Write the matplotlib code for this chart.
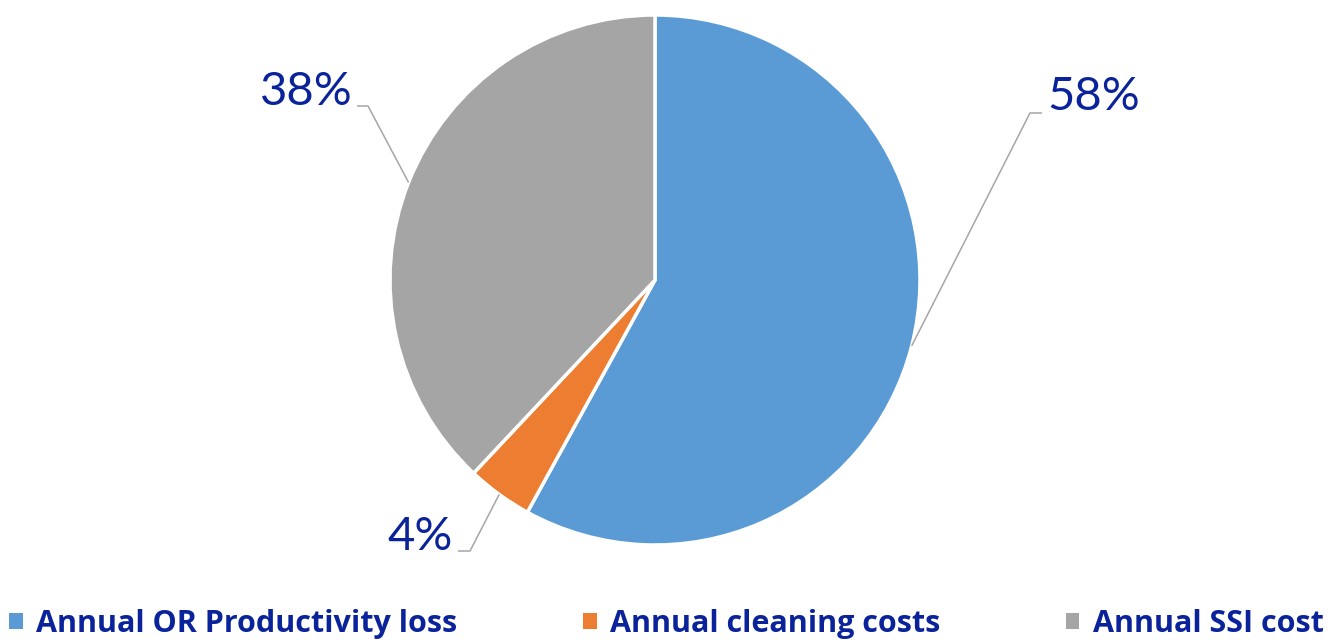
import numpy as np
import matplotlib
matplotlib.use("Agg")
import matplotlib.pyplot as plt
from matplotlib.patches import Patch

# data
categories = ["Annual OR Productivity loss", "Annual cleaning costs", "Annual SSI cost"]
shares = [58, 4, 38]
colors = ["#5B9BD5", "#ED7D31", "#A5A5A5"]
labels = ["58%", "4%", "38%"]

W, H = 1336, 640
TEXT_BLUE = "#0A239B"
plt.rcParams["font.family"] = ["Lato", "DejaVu Sans"]

fig = plt.figure(figsize=(W / 100, H / 100), dpi=100)
ax = fig.add_axes([0, 0, 1, 1])

cx, cy, r = 655, H - 280, 265
wedges, _ = ax.pie(shares, colors=colors, startangle=90, counterclock=False,
                   center=(cx, cy), radius=r, frame=True,
                   wedgeprops=dict(edgecolor="white", linewidth=2.5))
ax.set_xlim(0, W)
ax.set_ylim(0, H)
ax.set_aspect("equal")
ax.axis("off")

# label layout: elbow point, line end, text anchor (pixel coords from top)
layout = [
    dict(elbow=(1030, 113), end=(1042, 113), text=(1047, 97), ha="left"),
    dict(elbow=(470, 551), end=(458, 551), text=(453, 537), ha="right"),
    dict(elbow=(368, 106), end=(357, 106), text=(353, 92), ha="right"),
]

for w, lab, lay in zip(wedges, labels, layout):
    mid = np.deg2rad((w.theta1 + w.theta2) / 2)
    ax_x = cx + r * np.cos(mid)
    ax_y = cy + r * np.sin(mid)
    ex, ey = lay["elbow"]
    nx, ny = lay["end"]
    ax.plot([ax_x, ex, nx], [ax_y, H - ey, H - ny], color="#A6A6A6", lw=1.1,
            solid_capstyle="butt", zorder=1)
    tx, ty = lay["text"]
    ax.text(tx, H - ty, lab, ha=lay["ha"], va="center", fontsize=34,
            color=TEXT_BLUE)

handles = [Patch(facecolor=c, edgecolor="none") for c in colors]
fig.legend(handles, categories, loc="lower left", ncol=3, mode="expand",
           bbox_to_anchor=(9 / W, 1 / H, (1324 - 9) / W, 36 / H),
           frameon=False, borderpad=0, borderaxespad=0,
           handlelength=0.45, handleheight=0.45, handletextpad=0.45,
           prop=dict(family=["Open Sans", "DejaVu Sans"], weight="bold", size=22),
           labelcolor=TEXT_BLUE)

fig.savefig("out.png", dpi=100)
